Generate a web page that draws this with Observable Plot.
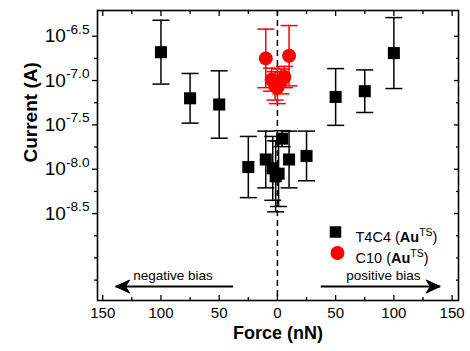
<!DOCTYPE html>
<html><head><meta charset="utf-8">
<script src="https://cdn.jsdelivr.net/npm/d3@7"></script>
<script src="https://cdn.jsdelivr.net/npm/@observablehq/plot@0.6"></script>
<style>
body{margin:0;background:#fff;}
svg{font-family:"Liberation Sans",Arial,sans-serif;}
</style></head><body><div id="chart"></div>
<script>
// ---- data (log10 of current in A; error as ± in log10) ----
const t4c4Force = [-100, -75, -50, -25, -10, -4, -1.5, 1, 4, 10, 25, 50, 75, 100];
const t4c4LogI  = [-6.68, -7.20, -7.27, -7.975, -7.89, -7.99, -8.08, -8.05, -7.655, -7.89, -7.85, -7.185, -7.12, -6.69];
const t4c4Err   = [0.36, 0.28, 0.38, 0.345, 0.32, 0.36, 0.40, 0.37, 0.09, 0.32, 0.28, 0.32, 0.24, 0.40];

const c10Force = [-10, -5, -2, 0, 3, 6, 10];
const c10LogI  = [-6.75, -6.99, -7.06, -7.08, -7.01, -6.96, -6.72];
const c10Err   = [0.33, 0.13, 0.16, 0.18, 0.14, 0.12, 0.34];

const xTickValues = [-150, -100, -50, 0, 50, 100, 150];
const xTickLabels = ["150", "100", "50", "0", "50", "100", "150"];
const xMinorTicks = [-125, -75, -25, 25, 75, 125];
const yTickValues = [-6.5, -7.0, -7.5, -8.0, -8.5];
const yTickLabels = ["-6.5", "-7.0", "-7.5", "-8.0", "-8.5"];
const yMinorTicks = [-6.75, -7.25, -7.75, -8.25, -8.75, -9.0, -9.25];

const seriesNames = ["T4C4 (**Au**^TS^)", "C10 (**Au**^TS^)"];
const biasLabels = ["negative bias", "positive bias"];
const biasLabelX = [-89.6, 91];
const biasLabelY = -9.197;
const biasArrowFrom = [-38, 37.2];
const biasArrowTo = [-139, 139.8];
const biasArrowY = -9.322;

// ---- tables ----
const t4c4 = t4c4Force.map((f, i) => ({x: f, y: t4c4LogI[i], lo: t4c4LogI[i] - t4c4Err[i], hi: t4c4LogI[i] + t4c4Err[i]}));
const c10 = c10Force.map((f, i) => ({x: f, y: c10LogI[i], lo: c10LogI[i] - c10Err[i], hi: c10LogI[i] + c10Err[i]}));
const biasText = biasLabels.map((t, i) => ({t, x: biasLabelX[i], y: biasLabelY}));
const arrows = biasArrowFrom.map((f, i) => ({x1: f, x2: biasArrowTo[i], y: biasArrowY}));

const capSym = {draw(ctx) { ctx.moveTo(-8.5, 0); ctx.lineTo(8.5, 0); }};
const headRight = {draw(ctx) { ctx.moveTo(0, 0); ctx.lineTo(-14, -6.5); ctx.lineTo(-10, 0); ctx.lineTo(-14, 6.5); ctx.closePath(); }};
const headLeft = {draw(ctx) { ctx.moveTo(0, 0); ctx.lineTo(14, -6.5); ctx.lineTo(10, 0); ctx.lineTo(14, 6.5); ctx.closePath(); }};

function errMarks(data, color) {
  return [
    Plot.ruleX(data, {x: "x", y1: "lo", y2: "hi", stroke: color, strokeWidth: 1.5}),
    Plot.dot(data, {x: "x", y: "hi", symbol: capSym, stroke: color, fill: "none", strokeWidth: 1.5}),
    Plot.dot(data, {x: "x", y: "lo", symbol: capSym, stroke: color, fill: "none", strokeWidth: 1.5})
  ];
}

const plot = Plot.plot({
  width: 470, height: 351,
  marginLeft: 97, marginRight: 12, marginTop: 10, marginBottom: 51,
  style: {fontFamily: "Liberation Sans, Arial, sans-serif", fontSize: "15px", color: "black", background: "white", overflow: "visible"},
  x: {domain: [-154.5, 155.5], label: null, axis: null},
  y: {domain: [-9.48, -6.21], label: null, axis: null},
  marks: [
    Plot.ruleX([0], {strokeDasharray: "6,4", strokeWidth: 1.5}),
    // bottom axis
    Plot.axisX(xMinorTicks, {anchor: "bottom", tickSize: -3, tickFormat: () => "", strokeWidth: 1.3}),
    Plot.axisX(xTickValues, {anchor: "bottom", tickSize: -5, tickPadding: 12, strokeWidth: 1.3,
      tickFormat: d => xTickLabels[xTickValues.indexOf(d)], fontSize: 15}),
    // top axis
    Plot.axisX(xMinorTicks, {anchor: "top", tickSize: -3, tickFormat: () => "", strokeWidth: 1.3}),
    Plot.axisX(xTickValues, {anchor: "top", tickSize: -5, tickFormat: () => "", strokeWidth: 1.3}),
    // left axis
    Plot.axisY(yMinorTicks, {anchor: "left", tickSize: 3, tickFormat: () => "", strokeWidth: 1.3}),
    Plot.axisY(yTickValues, {anchor: "left", tickSize: 5, tickPadding: 3, strokeWidth: 1.3,
      tickFormat: d => "10^" + yTickLabels[yTickValues.indexOf(d)] + "^", fontSize: 19}),
    // right axis
    Plot.axisY(yMinorTicks, {anchor: "right", tickSize: -3, tickFormat: () => "", strokeWidth: 1.3}),
    Plot.axisY(yTickValues, {anchor: "right", tickSize: -5, tickFormat: () => "", strokeWidth: 1.3}),
    Plot.frame({stroke: "black", strokeWidth: 1.6}),
    // data
    ...errMarks(t4c4, "black"),
    Plot.dot(t4c4, {x: "x", y: "y", symbol: "square", r: 6.8, fill: "black"}),
    ...errMarks(c10, "#ff0000"),
    Plot.dot(c10, {x: "x", y: "y", r: 7, fill: "#ff0000"}),
    // bias arrows
    Plot.link(arrows, {x1: "x1", x2: "x2", y1: "y", y2: "y", stroke: "black", strokeWidth: 2}),
    Plot.dot([arrows[0]], {x: "x2", y: "y", symbol: headLeft, fill: "black", stroke: "black", strokeWidth: 1}),
    Plot.dot([arrows[1]], {x: "x2", y: "y", symbol: headRight, fill: "black", stroke: "black", strokeWidth: 1}),
    Plot.text(biasText, {x: "x", y: "y", text: "t", fontSize: 13.5}),
    // legend
    Plot.dot([seriesNames[0]], {frameAnchor: "top-left", dx: 238, dy: 221.5, symbol: "square", r: 6.5, fill: "black"}),
    Plot.dot([seriesNames[1]], {frameAnchor: "top-left", dx: 240, dy: 242.5, r: 7, fill: "#ff0000"}),
    Plot.text([seriesNames[0]], {frameAnchor: "top-left", dx: 258, dy: 221.5, text: d => d, textAnchor: "start", fontSize: 14.5}),
    Plot.text([seriesNames[1]], {frameAnchor: "top-left", dx: 258, dy: 242.5, text: d => d, textAnchor: "start", fontSize: 14.5}),
    // axis titles
    Plot.text(["Force (nN)"], {frameAnchor: "bottom", dy: 38, text: d => d, fontWeight: "bold", fontSize: 18}),
    Plot.text(["Current (A)"], {frameAnchor: "left", dx: -67, dy: 7, rotate: -90, text: d => d, fontWeight: "bold", fontSize: 19})
  ]
});
document.getElementById("chart").appendChild(plot);

// rich text: **bold**, ^superscript^
d3.select(plot).selectAll("text").each(function() {
  const s = this.textContent;
  if (!s || !(s.includes("^") || s.includes("**"))) return;
  const el = d3.select(this);
  const fs = parseFloat(getComputedStyle(this).fontSize) || 15;
  el.text(null);
  const parts = s.split(/(\*\*[^*]+\*\*|\^[^^]+\^)/).filter(p => p);
  let raised = 0;
  for (const p of parts) {
    if (p.startsWith("**")) {
      const t = el.append("tspan").attr("font-weight", "bold").text(p.slice(2, -2));
      if (raised) { t.attr("dy", raised); raised = 0; }
    } else if (p.startsWith("^")) {
      const sh = fs * 0.45;
      el.append("tspan").attr("dy", -sh).attr("font-size", fs * 0.72).text(p.slice(1, -1));
      raised = sh;
    } else {
      const t = el.append("tspan").text(p);
      if (raised) { t.attr("dy", raised); raised = 0; }
    }
  }
});
</script></body></html>
